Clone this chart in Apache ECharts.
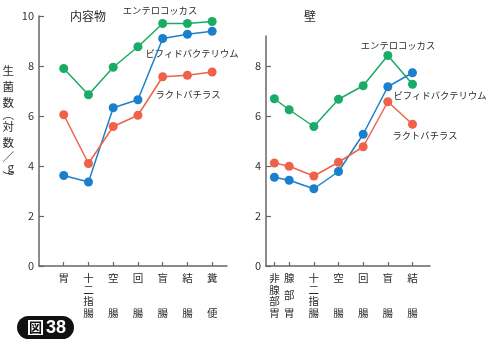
<!DOCTYPE html>
<html>
<head>
<meta charset="utf-8">
<script src="https://cdn.jsdelivr.net/npm/echarts@6/dist/echarts.min.js"></script>
<style>
  html, body { margin: 0; padding: 0; background: #fff; }
  #main { width: 500px; height: 350px; }
</style>
</head>
<body>
<div id="main"></div>
<script>
// 内容物
var leftCats = ['胃', '十二指腸', '空腸', '回腸', '盲腸', '結腸', '糞便'];
var leftPos = [0, 1, 2, 3, 4, 5, 6];
var leftEntero = [7.9, 6.85, 7.95, 8.77, 9.7, 9.7, 9.78];
var leftBifido = [3.62, 3.36, 6.33, 6.65, 9.1, 9.27, 9.39];
var leftLacto = [6.05, 4.1, 5.58, 6.03, 7.57, 7.63, 7.76];

// 壁
var rightCats = ['非腺部胃', '腺部胃', '十二指腸', '空腸', '回腸', '盲腸', '結腸'];
var rightPos = [0, 0.6, 1.6, 2.6, 3.6, 4.6, 5.6];
var rightEntero = [6.69, 6.25, 5.58, 6.67, 7.21, 8.42, 7.27];
var rightBifido = [3.55, 3.43, 3.09, 3.78, 5.27, 7.17, 7.73];
var rightLacto = [4.12, 3.99, 3.6, 4.15, 4.77, 6.57, 5.67];

var leftYTicks = [0, 2, 4, 6, 8, 10];
var rightYTicks = [0, 2, 4, 6, 8];

var GREEN = '#1aab66';
var BLUE = '#1c7fcc';
var RED = '#ef6249';
var AXIS = '#666';
var TXT = '#2a2a2a';
var FONT = '"Noto Sans CJK JP", sans-serif';

// 縦書きラベル
function vertLabel(name) {
    if (!name) return '';
    if (name.length === 1) return name;
    if (name.length === 2) return name[0] + '\n\n\n' + name[1];
    if (name.length === 3) return '{a|' + name[0] + '}\n{c|' + name[1] + '}\n{a|' + name[2] + '}';
    return name.split('').join('\n');
}

function pairs(pos, vals) {
    var out = [];
    for (let i = 0; i < pos.length; i++) {
        out.push([pos[i], vals[i]]);
    }
    return out;
}

function xAxisOf(idx, pos, cats, min, max) {
    return {
        type: 'value',
        gridIndex: idx,
        min: min,
        max: max,
        splitLine: {show: false},
        axisLine: {show: true, onZero: false, lineStyle: {color: AXIS, width: 1.5}},
        axisTick: {show: true, inside: true, length: 4, customValues: pos, lineStyle: {color: AXIS, width: 1.2}},
        axisLabel: {
            customValues: pos,
            margin: 6,
            fontSize: 10.5,
            lineHeight: 11.7,
            color: TXT,
            fontFamily: FONT,
            formatter: function (v) {
                let k = pos.findIndex(function (p) { return Math.abs(p - v) < 1e-6; });
                return vertLabel(cats[k]);
            },
            rich: {
                a: {fontSize: 10.5, lineHeight: 11.7, color: TXT, fontFamily: FONT},
                c: {fontSize: 10.5, lineHeight: 23.3, color: TXT, fontFamily: FONT}
            }
        }
    };
}

function yAxisOf(idx, ticks, max, withName) {
    let ax = {
        type: 'value',
        gridIndex: idx,
        min: 0,
        max: max,
        splitLine: {show: false},
        axisLine: {show: true, onZero: false, lineStyle: {color: AXIS, width: 1.5}},
        axisTick: {show: true, inside: true, length: 5, customValues: ticks, lineStyle: {color: AXIS, width: 1.2}},
        axisLabel: {customValues: ticks, margin: 5, fontSize: 11, color: '#333', fontFamily: FONT}
    };
    if (withName) {
        ax.name = '{k|生}\n{k|菌}\n{k|数}\n{p|︵}\n{k|対}\n{k|数}\n{s|／}\n{s|g}\n{p|︶}';
        ax.nameLocation = 'middle';
        ax.nameRotate = 0;
        ax.nameGap = 25;
        ax.nameTextStyle = {
            padding: [0, 0, 38, 0],
            rich: {
                k: {fontSize: 11.5, lineHeight: 16, color: TXT, fontFamily: FONT},
                p: {fontSize: 11.5, lineHeight: 8, color: TXT, fontFamily: FONT},
                s: {fontSize: 11.5, lineHeight: 11, color: TXT, fontFamily: FONT}
            }
        };
    }
    return ax;
}

function lineSeries(name, color, xi, data) {
    return {
        name: name,
        type: 'line',
        xAxisIndex: xi,
        yAxisIndex: xi,
        data: data,
        symbol: 'circle',
        symbolSize: 9,
        itemStyle: {color: color},
        lineStyle: {color: color, width: 1.5},
        animation: false
    };
}

function note(text, x, y, size) {
    return {
        type: 'text',
        x: x,
        y: y,
        style: {
            text: text,
            fill: TXT,
            font: (size || 9.3) + 'px ' + FONT,
            align: 'center',
            verticalAlign: 'middle'
        }
    };
}

var chartDom = document.getElementById('main');
var myChart = echarts.init(chartDom);
var option;

option = {
    animation: false,
    grid: [
        {left: 39, right: 273, top: 16, bottom: 84, outerBoundsMode: 'none', containLabel: false},
        {left: 266, right: 70, top: 36, bottom: 84, outerBoundsMode: 'none', containLabel: false}
    ],
    xAxis: [
        xAxisOf(0, leftPos, leftCats, -1, 6.6),
        xAxisOf(1, rightPos, rightCats, -0.34, 6.31)
    ],
    yAxis: [
        yAxisOf(0, leftYTicks, 10, true),
        yAxisOf(1, rightYTicks, 9.2, false)
    ],
    series: [
        lineSeries('エンテロコッカス', GREEN, 0, pairs(leftPos, leftEntero)),
        lineSeries('ビフィドバクテリウム', BLUE, 0, pairs(leftPos, leftBifido)),
        lineSeries('ラクトバチラス', RED, 0, pairs(leftPos, leftLacto)),
        lineSeries('エンテロコッカス', GREEN, 1, pairs(rightPos, rightEntero)),
        lineSeries('ビフィドバクテリウム', BLUE, 1, pairs(rightPos, rightBifido)),
        lineSeries('ラクトバチラス', RED, 1, pairs(rightPos, rightLacto))
    ],
    graphic: [
        note('内容物', 88, 16, 12),
        note('エンテロコッカス', 160, 10),
        note('ビフィドバクテリウム', 192, 53),
        note('ラクトバチラス', 188, 94),
        note('壁', 310, 16, 12),
        note('エンテロコッカス', 398, 45),
        note('ビフィドバクテリウム', 440, 95),
        note('ラクトバチラス', 425, 135),
        // 図38 バッジ
        {
            type: 'group',
            children: [
                {type: 'rect', shape: {x: 17, y: 316, width: 57, height: 23, r: 11.5}, style: {fill: '#111'}},
                {type: 'rect', shape: {x: 28, y: 320, width: 15, height: 15}, style: {fill: '#fff'}},
                {type: 'text', x: 35.5, y: 327.5, style: {text: '図', fill: '#111', font: 'bold 13px ' + FONT, align: 'center', verticalAlign: 'middle'}},
                {type: 'text', x: 56, y: 328, style: {text: '38', fill: '#fff', font: 'bold 18px "Liberation Sans", sans-serif', align: 'center', verticalAlign: 'middle'}}
            ]
        }
    ]
};

option && myChart.setOption(option);
</script>
</body>
</html>
